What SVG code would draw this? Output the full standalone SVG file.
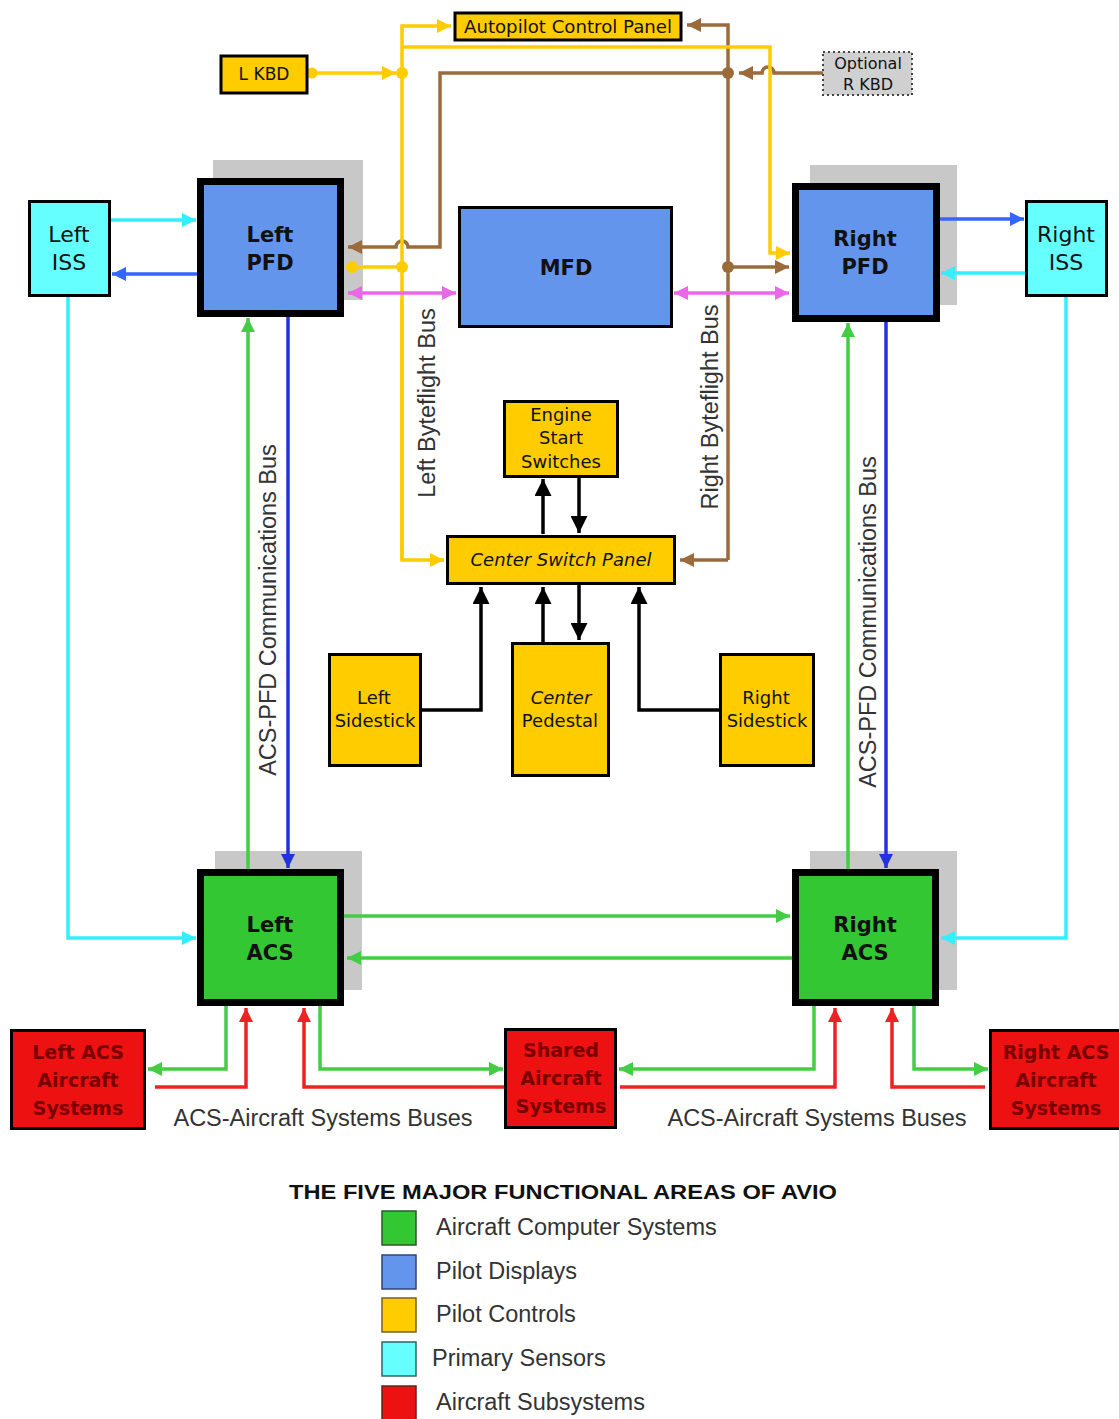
<svg xmlns="http://www.w3.org/2000/svg" width="1119" height="1419" viewBox="0 0 1119 1419">
<style>
.bg{fill:#ffffff}
.shadow{fill:#c8c8c8}
.big{stroke:#000;stroke-width:7}
.small{stroke:#000;stroke-width:3}
.blue{fill:#6495ed}
.green{fill:#33c733}
.yellow{fill:#ffcc00}
.cyan{fill:#66ffff}
.red{fill:#ee1111}
.nt{font-family:"DejaVu Sans",sans-serif;fill:#111;text-anchor:middle}
.bt{font-size:21px;font-weight:bold}
.st{font-size:18px}
.rt{font-size:19px;font-weight:bold;fill:#7a0000}
.lbl{font-family:"Liberation Sans",Arial,sans-serif;fill:#333;text-anchor:middle;font-size:23.5px}
.leg{font-family:"Liberation Sans",Arial,sans-serif;fill:#333;font-size:23.5px}
.c{fill:none;stroke-width:3.5;stroke-linejoin:miter}
.cy{stroke:#ffcc00}
.cb{stroke:#9c6b3c}
.cm{stroke:#e868e8}
.cc{stroke:#33eeff}
.cbl{stroke:#3366ff}
.cdb{stroke:#2233dd}
.cg{stroke:#44cc44}
.cr{stroke:#ee2222}
.ck{stroke:#000;stroke-width:3.5}
</style>
<defs>
<marker id="aY" viewBox="0 0 10 10" refX="10" refY="5" markerWidth="14" markerHeight="14" markerUnits="userSpaceOnUse" orient="auto"><path d="M0,0L10,5L0,10z" fill="#ffcc00"/></marker>
<marker id="aB" viewBox="0 0 10 10" refX="10" refY="5" markerWidth="14" markerHeight="14" markerUnits="userSpaceOnUse" orient="auto"><path d="M0,0L10,5L0,10z" fill="#9c6b3c"/></marker>
<marker id="aM" viewBox="0 0 10 10" refX="10" refY="5" markerWidth="14" markerHeight="14" markerUnits="userSpaceOnUse" orient="auto-start-reverse"><path d="M0,0L10,5L0,10z" fill="#e868e8"/></marker>
<marker id="aC" viewBox="0 0 10 10" refX="10" refY="5" markerWidth="14" markerHeight="14" markerUnits="userSpaceOnUse" orient="auto"><path d="M0,0L10,5L0,10z" fill="#33eeff"/></marker>
<marker id="aBl" viewBox="0 0 10 10" refX="10" refY="5" markerWidth="14" markerHeight="14" markerUnits="userSpaceOnUse" orient="auto"><path d="M0,0L10,5L0,10z" fill="#3366ff"/></marker>
<marker id="aDb" viewBox="0 0 10 10" refX="10" refY="5" markerWidth="14" markerHeight="14" markerUnits="userSpaceOnUse" orient="auto"><path d="M0,0L10,5L0,10z" fill="#2233dd"/></marker>
<marker id="aG" viewBox="0 0 10 10" refX="10" refY="5" markerWidth="14" markerHeight="14" markerUnits="userSpaceOnUse" orient="auto"><path d="M0,0L10,5L0,10z" fill="#44cc44"/></marker>
<marker id="aR" viewBox="0 0 10 10" refX="10" refY="5" markerWidth="14" markerHeight="14" markerUnits="userSpaceOnUse" orient="auto"><path d="M0,0L10,5L0,10z" fill="#ee2222"/></marker>
<marker id="aK" viewBox="0 0 10 10" refX="10" refY="5" markerWidth="17" markerHeight="17" markerUnits="userSpaceOnUse" orient="auto"><path d="M0,0L10,5L0,10z" fill="#000"/></marker>
</defs>
<rect class="bg" x="0" y="0" width="1119" height="1419"/>

<g id="shadows">
<rect class="shadow" x="213" y="160" width="150" height="140"/>
<rect class="shadow" x="810" y="165" width="147" height="140"/>
<rect class="shadow" x="215" y="851" width="147" height="139"/>
<rect class="shadow" x="810" y="851" width="147" height="139"/>
</g>

<g id="connectors">
<!-- brown byteflight -->
<path class="c cb" d="M823,73 H774 a6,6 0 0 0 -12,0 H739" marker-end="url(#aB)"/>
<path class="c cb" d="M728,560 V25 H687" marker-end="url(#aB)"/>
<path class="c cb" d="M728,560 H680" marker-end="url(#aB)"/>
<path class="c cb" d="M728,73 H440 V247 H408 a6,6 0 0 0 -12,0 H348" marker-end="url(#aB)"/>
<path class="c cb" d="M728,267 H789" marker-end="url(#aB)"/>
<circle cx="728" cy="73" r="6" fill="#9c6b3c"/>
<circle cx="728" cy="267" r="6" fill="#9c6b3c"/>
<!-- yellow byteflight -->
<path class="c cy" d="M307,73 H396" marker-end="url(#aY)"/>
<circle cx="312" cy="73" r="5.5" fill="#ffcc00"/>
<path class="c cy" d="M402,560 V26 H451" marker-end="url(#aY)"/>
<path class="c cy" d="M402,300 V560 H444" marker-end="url(#aY)"/>
<path class="c cy" d="M402,47 H770 V253 H790" marker-end="url(#aY)"/>
<path class="c cy" d="M402,267 H352"/>
<circle cx="352" cy="267" r="6" fill="#ffcc00"/>
<circle cx="402" cy="267" r="6" fill="#ffcc00"/>
<circle cx="402" cy="73" r="6" fill="#ffcc00"/>
<!-- magenta -->
<path class="c cm" d="M348,293 H456" marker-start="url(#aM)" marker-end="url(#aM)"/>
<path class="c cm" d="M674,293 H789" marker-start="url(#aM)" marker-end="url(#aM)"/>
<!-- ISS links -->
<path class="c cc" d="M111,220 H196" marker-end="url(#aC)"/>
<path class="c cbl" d="M197,274 H112" marker-end="url(#aBl)"/>
<path class="c cbl" d="M940,219 H1024" marker-end="url(#aBl)"/>
<path class="c cc" d="M1025,273 H941" marker-end="url(#aC)"/>
<path class="c cc" d="M68,297 V938 H196" marker-end="url(#aC)"/>
<path class="c cc" d="M1066,297 V938 H941" marker-end="url(#aC)"/>
<!-- ACS-PFD buses -->
<path class="c cg" d="M248,869 V318" marker-end="url(#aG)"/>
<path class="c cdb" d="M288,317 V868" marker-end="url(#aDb)"/>
<path class="c cg" d="M848,869 V323" marker-end="url(#aG)"/>
<path class="c cdb" d="M886,322 V868" marker-end="url(#aDb)"/>
<!-- ACS to ACS -->
<path class="c cg" d="M344,916 H790" marker-end="url(#aG)"/>
<path class="c cg" d="M792,958 H347" marker-end="url(#aG)"/>
<!-- ACS-Aircraft systems buses -->
<path class="c cg" d="M226,1006 V1069 H148" marker-end="url(#aG)"/>
<path class="c cr" d="M155,1087 H246 V1008" marker-end="url(#aR)"/>
<path class="c cr" d="M505,1087 H304 V1008" marker-end="url(#aR)"/>
<path class="c cg" d="M320,1006 V1069 H503" marker-end="url(#aG)"/>
<path class="c cg" d="M814,1006 V1069 H619" marker-end="url(#aG)"/>
<path class="c cr" d="M620,1087 H835 V1008" marker-end="url(#aR)"/>
<path class="c cr" d="M985,1087 H892 V1008" marker-end="url(#aR)"/>
<path class="c cg" d="M914,1006 V1069 H988" marker-end="url(#aG)"/>
<!-- black center links -->
<path class="c ck" d="M543,534 V479" marker-end="url(#aK)"/>
<path class="c ck" d="M579,478 V533" marker-end="url(#aK)"/>
<path class="c ck" d="M422,710 H481 V587" marker-end="url(#aK)"/>
<path class="c ck" d="M543,642 V587" marker-end="url(#aK)"/>
<path class="c ck" d="M579,585 V640" marker-end="url(#aK)"/>
<path class="c ck" d="M719,710 H639 V587" marker-end="url(#aK)"/>
</g>

<g id="bus-labels">
<text class="lbl" transform="translate(276,610) rotate(-90)">ACS-PFD Communications Bus</text>
<text class="lbl" transform="translate(876,622) rotate(-90)">ACS-PFD Communications Bus</text>
<text class="lbl" font-size="22.5" transform="translate(435,403) rotate(-90)">Left Byteflight Bus</text>
<text class="lbl" font-size="22.5" transform="translate(718,407) rotate(-90)">Right Byteflight Bus</text>
<text class="lbl" x="323" y="1126">ACS-Aircraft Systems Buses</text>
<text class="lbl" x="817" y="1126">ACS-Aircraft Systems Buses</text>
</g>

<g id="autopilot">
<rect class="yellow small" x="455" y="13" width="226" height="27"/>
<text class="nt" x="568" y="33" font-size="17" textLength="208" lengthAdjust="spacingAndGlyphs">Autopilot Control Panel</text>
</g>
<g id="lkbd">
<rect class="yellow small" x="221" y="56" width="86" height="37"/>
<text class="nt" x="264" y="80" font-size="17">L KBD</text>
</g>
<g id="rkbd">
<rect x="823" y="52" width="89" height="43" fill="#d0d0d0" stroke="#444" stroke-width="2" stroke-dasharray="2,3"/>
<text class="nt" x="868" y="69" font-size="16">Optional</text>
<text class="nt" x="868" y="90" font-size="16">R KBD</text>
</g>
<g id="left-iss">
<rect class="cyan small" x="29.5" y="201.5" width="80" height="94"/>
<text class="nt" x="69" y="242" font-size="22">Left</text>
<text class="nt" x="69" y="270" font-size="22">ISS</text>
</g>
<g id="right-iss">
<rect class="cyan small" x="1026.5" y="201.5" width="80" height="94"/>
<text class="nt" x="1066" y="242" font-size="22">Right</text>
<text class="nt" x="1066" y="270" font-size="22">ISS</text>
</g>
<g id="left-pfd">
<rect class="blue big" x="200.5" y="181.5" width="140" height="132"/>
<text class="nt bt" x="270" y="242">Left</text>
<text class="nt bt" x="270" y="270">PFD</text>
</g>
<g id="right-pfd">
<rect class="blue big" x="795.5" y="186.5" width="141" height="132"/>
<text class="nt bt" x="865" y="246">Right</text>
<text class="nt bt" x="865" y="274">PFD</text>
</g>
<g id="mfd">
<rect class="blue small" x="459.5" y="207.5" width="212" height="119"/>
<text class="nt bt" x="566" y="275">MFD</text>
</g>
<g id="engine-start">
<rect class="yellow small" x="504.5" y="401.5" width="113" height="75"/>
<text class="nt st" x="561" y="421">Engine</text>
<text class="nt st" x="561" y="444">Start</text>
<text class="nt st" x="561" y="468">Switches</text>
</g>
<g id="center-switch-panel">
<rect class="yellow small" x="447.5" y="536.5" width="227" height="47"/>
<text class="nt st" x="561" y="566" font-style="italic">Center Switch Panel</text>
</g>
<g id="left-sidestick">
<rect class="yellow small" x="329.5" y="654.5" width="91" height="111"/>
<text class="nt st" x="374" y="704">Left</text>
<text class="nt st" x="375" y="727">Sidestick</text>
</g>
<g id="center-pedestal">
<rect class="yellow small" x="512.5" y="643.5" width="96" height="132"/>
<text class="nt st" x="561" y="704" font-style="italic">Center</text>
<text class="nt st" x="560" y="727">Pedestal</text>
</g>
<g id="right-sidestick">
<rect class="yellow small" x="720.5" y="654.5" width="93" height="111"/>
<text class="nt st" x="766" y="704">Right</text>
<text class="nt st" x="767" y="727">Sidestick</text>
</g>
<g id="left-acs">
<rect class="green big" x="200.5" y="872.5" width="140" height="130"/>
<text class="nt bt" x="270" y="932">Left</text>
<text class="nt bt" x="270" y="960">ACS</text>
</g>
<g id="right-acs">
<rect class="green big" x="795.5" y="872.5" width="140" height="130"/>
<text class="nt bt" x="865" y="932">Right</text>
<text class="nt bt" x="865" y="960">ACS</text>
</g>
<g id="left-acs-systems">
<rect class="red small" x="11.5" y="1030.5" width="133" height="98"/>
<text class="nt rt" x="78" y="1059">Left ACS</text>
<text class="nt rt" x="78" y="1087">Aircraft</text>
<text class="nt rt" x="78" y="1115">Systems</text>
</g>
<g id="shared-systems">
<rect class="red small" x="505.5" y="1029.5" width="110" height="98"/>
<text class="nt rt" x="561" y="1057">Shared</text>
<text class="nt rt" x="561" y="1085">Aircraft</text>
<text class="nt rt" x="561" y="1113">Systems</text>
</g>
<g id="right-acs-systems">
<rect class="red small" x="990.5" y="1030.5" width="131" height="98"/>
<text class="nt rt" x="1056" y="1059">Right ACS</text>
<text class="nt rt" x="1056" y="1087">Aircraft</text>
<text class="nt rt" x="1056" y="1115">Systems</text>
</g>

<g id="legend">
<text x="563" y="1199" text-anchor="middle" font-family="Liberation Sans, Arial, sans-serif" font-weight="bold" font-size="20" fill="#111" textLength="548" lengthAdjust="spacingAndGlyphs">THE FIVE MAJOR FUNCTIONAL AREAS OF AVIO</text>
<rect x="382" y="1211" width="34" height="34" fill="#33c733" stroke="#2a5a2a" stroke-width="1.5"/>
<rect x="382" y="1255" width="34" height="34" fill="#6495ed" stroke="#334477" stroke-width="1.5"/>
<rect x="382" y="1298" width="34" height="34" fill="#ffcc00" stroke="#7a6020" stroke-width="1.5"/>
<rect x="382" y="1342" width="34" height="34" fill="#66ffff" stroke="#336666" stroke-width="1.5"/>
<rect x="382" y="1386" width="34" height="34" fill="#ee1111" stroke="#662222" stroke-width="1.5"/>
<text class="leg" x="436" y="1235">Aircraft Computer Systems</text>
<text class="leg" x="436" y="1279">Pilot Displays</text>
<text class="leg" x="436" y="1322">Pilot Controls</text>
<text class="leg" x="432" y="1366">Primary Sensors</text>
<text class="leg" x="436" y="1410">Aircraft Subsystems</text>
</g>
</svg>
